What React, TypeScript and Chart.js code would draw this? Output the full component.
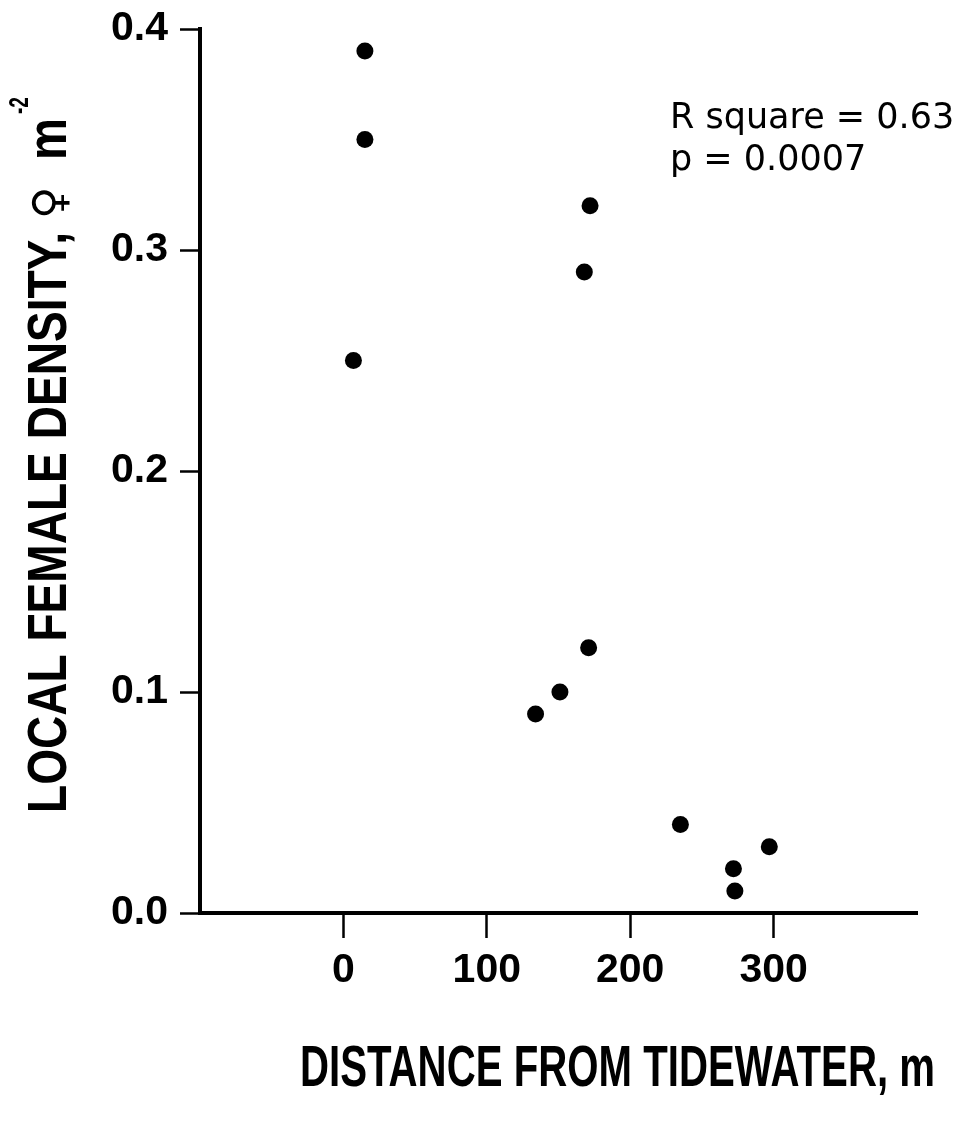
import React, { useEffect, useRef } from "react";
import { Chart, registerables } from "chart.js";

Chart.register(...registerables);

const distance = [15, 15, 7, 172, 168, 171, 151, 134, 235, 272, 273, 297];
const density = [0.39, 0.35, 0.25, 0.32, 0.29, 0.12, 0.10, 0.09, 0.04, 0.02, 0.01, 0.03];
const xTickValues = [0, 100, 200, 300];
const yTickValues = [0, 0.1, 0.2, 0.3, 0.4];
const xTitle = "DISTANCE FROM TIDEWATER, m";
const yTitleMain = "LOCAL FEMALE DENSITY,";
const yTitleSymbol = "\u2640";
const yTitleUnit = "m";
const ySuper = "-2";
const statLines = ["R square = 0.63", "p = 0.0007"];

const W = 961;
const H = 1124;

const textPlugin = {
  id: "customText",
  afterDraw(chart: any) {
    const ctx = chart.ctx as CanvasRenderingContext2D;
    ctx.save();
    ctx.fillStyle = "#000";
    ctx.textAlign = "left";
    ctx.textBaseline = "alphabetic";
    // x title
    ctx.font = "bold 57px 'Liberation Sans', Arial, sans-serif";
    ctx.fillText(xTitle, 300, 1086, 635);
    // y title (rotated)
    ctx.save();
    ctx.translate(66, 813);
    ctx.rotate(-Math.PI / 2);
    ctx.font = "bold 56px 'Liberation Sans', Arial, sans-serif";
    ctx.fillText(yTitleMain, 0, 0, 581);
    ctx.font = "bold 44px 'DejaVu Sans', sans-serif";
    ctx.fillText(yTitleSymbol, 594, -2, 38);
    ctx.font = "bold 56px 'Liberation Sans', Arial, sans-serif";
    ctx.fillText(yTitleUnit, 653, 0, 42);
    ctx.font = "bold 28px 'Liberation Sans', Arial, sans-serif";
    ctx.fillText(ySuper, 699, -38, 17);
    ctx.restore();
    // statistics
    ctx.font = "35px 'DejaVu Sans', sans-serif";
    ctx.fillText(statLines[0], 670, 128);
    ctx.fillText(statLines[1], 670, 170);
    ctx.restore();
  },
};

export default function App() {
  const ref = useRef<HTMLCanvasElement | null>(null);
  useEffect(() => {
    if (!ref.current) return;
    const tickFont = { family: "'Liberation Sans', Arial, sans-serif", size: 41, weight: "bold" as const };
    const chart = new Chart(ref.current, {
      type: "scatter",
      data: {
        datasets: [
          {
            data: distance.map((x, i) => ({ x, y: density[i] })),
            backgroundColor: "#000",
            borderWidth: 0,
            pointRadius: 8.5,
            pointHoverRadius: 8.5,
          },
        ],
      },
      options: {
        responsive: false,
        animation: false,
        layout: { padding: { top: 29, right: 44, left: 0, bottom: 0 } },
        plugins: { legend: { display: false }, tooltip: { enabled: false } },
        scales: {
          x: {
            type: "linear",
            min: -100,
            max: 400,
            afterBuildTicks: (scale: any) => {
              scale.ticks = xTickValues.map((v) => ({ value: v }));
            },
            afterFit: (scale: any) => {
              scale.height = H - 913;
              scale.paddingLeft = 0;
              scale.paddingRight = 0;
            },
            border: { display: true, width: 4, color: "#000" },
            grid: { drawOnChartArea: false, drawTicks: true, tickLength: 25, tickWidth: 2.5, color: "#000" },
            ticks: { font: tickFont, color: "#000", padding: 8, maxRotation: 0, callback: (v: any) => String(v) },
          },
          y: {
            type: "linear",
            min: 0,
            max: 0.4,
            afterBuildTicks: (scale: any) => {
              scale.ticks = yTickValues.map((v) => ({ value: v }));
            },
            afterFit: (scale: any) => {
              scale.width = 200;
              scale.paddingTop = 0;
              scale.paddingBottom = 0;
            },
            border: { display: true, width: 4, color: "#000" },
            grid: { drawOnChartArea: false, drawTicks: true, tickLength: 20, tickWidth: 2.5, color: "#000" },
            ticks: { font: tickFont, color: "#000", padding: 12, callback: (v: any) => Number(v).toFixed(1) },
          },
        },
      },
      plugins: [textPlugin],
    });
    return () => chart.destroy();
  }, []);
  return (
    <div style={{ position: "absolute", left: 0, top: 0, width: W, height: H, background: "#fff" }}>
      <canvas ref={ref} width={W} height={H} style={{ width: W, height: H, display: "block" }} />
    </div>
  );
}
